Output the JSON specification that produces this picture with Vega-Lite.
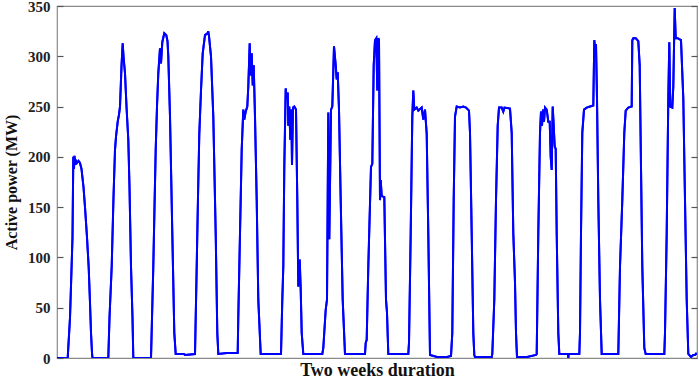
{
  "$schema": "https://vega.github.io/schema/vega-lite/v6.json",
  "width": 640,
  "height": 352,
  "autosize": {"type": "none"},
  "padding": {"left": 57, "top": 6, "right": 2, "bottom": 22},
  "background": "white",
  "config": {
    "view": {"stroke": "#8a8a8a", "strokeWidth": 1.2},
    "axis": {"grid": false, "domain": false, "labelFont": "Liberation Serif", "titleFont": "Liberation Serif", "labelFontWeight": "bold", "titleFontWeight": "bold", "labelColor": "#222222", "titleColor": "#111111"},
    "axisY": {"ticks": true, "tickColor": "#555555", "tickOpacity": 1, "tickWidth": 1.2, "tickSize": 6}
  },
  "data": {"values": [
    {"t":0,"p":0},{"t":10.7,"p":0},{"t":13,"p":40},{"t":15.5,"p":120},{"t":16.3,"p":200},{"t":17,"p":188},{"t":17.5,"p":201},{"t":18.3,"p":192},{"t":19,"p":196},{"t":20,"p":194},{"t":21.5,"p":196},{"t":23,"p":194},{"t":24.5,"p":188},{"t":26.5,"p":170},{"t":28,"p":150},{"t":30,"p":120},{"t":31.7,"p":90},{"t":33,"p":55},{"t":34,"p":25},{"t":35,"p":5},{"t":35.5,"p":0},
    {"t":51.3,"p":0},{"t":52.5,"p":40},{"t":54.7,"p":91},{"t":56.5,"p":160},{"t":58,"p":207},{"t":59,"p":220},{"t":60.7,"p":235},{"t":62,"p":242},{"t":63,"p":250},{"t":64.5,"p":290},{"t":65.7,"p":313},{"t":66.5,"p":300},{"t":68,"p":283},{"t":69.5,"p":250},{"t":71.3,"p":217},{"t":72.5,"p":170},{"t":74,"p":91},{"t":75.5,"p":40},{"t":76.3,"p":0},
    {"t":94,"p":0},{"t":96.3,"p":91},{"t":97.5,"p":150},{"t":98.7,"p":207},{"t":100,"p":250},{"t":101.3,"p":283},{"t":103,"p":308},{"t":104,"p":293},{"t":105.3,"p":314},{"t":107.3,"p":323},{"t":109.3,"p":321},{"t":110.5,"p":315},{"t":111.3,"p":300},{"t":113,"p":240},{"t":115.3,"p":124},{"t":117.3,"p":25},{"t":118.7,"p":4},
    {"t":127,"p":4},{"t":128,"p":3},{"t":138,"p":4},{"t":139.7,"p":91},{"t":141,"p":160},{"t":142.3,"p":223},{"t":144,"p":266},{"t":145.7,"p":303},{"t":148,"p":321},{"t":150.7,"p":323},{"t":151.2,"p":325},{"t":152,"p":320},{"t":154,"p":300},{"t":156.3,"p":240},{"t":158.7,"p":124},{"t":160.3,"p":25},{"t":161.3,"p":4},
    {"t":170,"p":5},{"t":180.7,"p":5},{"t":181.3,"p":41},{"t":183,"p":124},{"t":184.7,"p":207},{"t":186.3,"p":247},{"t":187.3,"p":237},{"t":188.7,"p":245},{"t":190.3,"p":250},{"t":191.3,"p":270},{"t":192.7,"p":313},{"t":193.7,"p":281},{"t":194.7,"p":303},{"t":195.7,"p":271},{"t":196.7,"p":291},{"t":198,"p":240},{"t":199.7,"p":157},{"t":201.3,"p":58},{"t":203.7,"p":4},
    {"t":223,"p":4},{"t":224,"p":4},{"t":225.3,"p":58},{"t":226.3,"p":91},{"t":227.3,"p":190},{"t":228.7,"p":268},{"t":229.7,"p":258},{"t":230.7,"p":264},{"t":231.3,"p":231},{"t":232.3,"p":250},{"t":233.3,"p":217},{"t":234.3,"p":247},{"t":235,"p":192},{"t":236,"p":249},{"t":237.3,"p":250},{"t":239,"p":247},{"t":240.3,"p":157},{"t":241.3,"p":71},{"t":242.7,"p":98},{"t":243.7,"p":68},{"t":244.7,"p":25},{"t":246.3,"p":4},
    {"t":265.3,"p":4},{"t":266.3,"p":10},{"t":268.7,"p":48},{"t":270,"p":58},{"t":271.3,"p":244},{"t":272.3,"p":118},{"t":274,"p":247},{"t":275.3,"p":250},{"t":277,"p":310},{"t":278.7,"p":291},{"t":279.7,"p":277},{"t":280.7,"p":284},{"t":282,"p":247},{"t":283.7,"p":157},{"t":285.7,"p":58},{"t":288,"p":4},
    {"t":308,"p":4},{"t":308.7,"p":15},{"t":309.7,"p":18},{"t":311.3,"p":91},{"t":314,"p":190},{"t":315.3,"p":193},{"t":316.7,"p":291},{"t":318,"p":316},{"t":319.3,"p":318},{"t":320.3,"p":266},{"t":321.3,"p":318},{"t":322,"p":316},{"t":323,"p":157},{"t":323.7,"p":177},{"t":324.7,"p":161},{"t":327.3,"p":160},{"t":329,"p":58},{"t":330,"p":45},{"t":331.3,"p":4},
    {"t":351.3,"p":4},{"t":352,"p":15},{"t":353.7,"p":124},{"t":355.3,"p":240},{"t":356.3,"p":266},{"t":357.3,"p":247},{"t":359.7,"p":249},{"t":361.3,"p":246},{"t":364.7,"p":249},{"t":366.3,"p":237},{"t":368,"p":247},{"t":369.7,"p":223},{"t":371.3,"p":124},{"t":373,"p":3},
    {"t":380,"p":1},{"t":390,"p":1},{"t":394,"p":2},{"t":395.3,"p":25},{"t":396.7,"p":157},{"t":398,"p":240},{"t":399.7,"p":250},{"t":403,"p":249},{"t":406.3,"p":250},{"t":409,"p":249},{"t":412,"p":246},{"t":413,"p":224},{"t":414.7,"p":124},{"t":416.3,"p":25},{"t":417.3,"p":3},{"t":418,"p":1},
    {"t":434.7,"p":1},{"t":435.3,"p":4},{"t":437.3,"p":58},{"t":439,"p":157},{"t":440.7,"p":231},{"t":442,"p":249},{"t":444.7,"p":249},{"t":446.3,"p":245},{"t":447.5,"p":249},{"t":453,"p":248},{"t":454.7,"p":224},{"t":456.3,"p":124},{"t":458,"p":75},{"t":459,"p":25},{"t":460,"p":1},
    {"t":470,"p":1},{"t":479,"p":3},{"t":479.7,"p":4},{"t":481.3,"p":124},{"t":483,"p":224},{"t":484,"p":245},{"t":485,"p":231},{"t":486,"p":247},{"t":487,"p":235},{"t":488,"p":249},{"t":489.7,"p":247},{"t":491.3,"p":235},{"t":492.7,"p":235},{"t":493.7,"p":200},{"t":494.7,"p":187},{"t":495.7,"p":250},{"t":496.7,"p":231},{"t":497.7,"p":210},{"t":498.7,"p":208},{"t":499.7,"p":124},{"t":501.3,"p":25},{"t":502.3,"p":4},
    {"t":511,"p":4},{"t":511.3,"p":0},{"t":511.7,"p":4},{"t":522.3,"p":4},{"t":523,"p":25},{"t":524,"p":124},{"t":525.3,"p":224},{"t":527,"p":247},{"t":529.7,"p":249},{"t":533,"p":250},{"t":536.3,"p":251},{"t":537.3,"p":316},{"t":538,"p":308},{"t":539,"p":312},{"t":540,"p":258},{"t":541.3,"p":157},{"t":543,"p":58},{"t":544.7,"p":4},
    {"t":561.3,"p":4},{"t":563,"p":91},{"t":565.3,"p":157},{"t":567.3,"p":224},{"t":568.7,"p":246},{"t":571.3,"p":249},{"t":574.7,"p":250},{"t":575.3,"p":316},{"t":576.3,"p":318},{"t":578.7,"p":318},{"t":581.3,"p":315},{"t":582.7,"p":291},{"t":584,"p":190},{"t":585.3,"p":91},{"t":587.3,"p":10},{"t":588.7,"p":4},
    {"t":607.3,"p":4},{"t":608,"p":25},{"t":609.7,"p":124},{"t":611.3,"p":258},{"t":612.3,"p":314},{"t":613.3,"p":250},{"t":615.3,"p":249},{"t":616.3,"p":270},{"t":617.7,"p":348},{"t":618.7,"p":318},{"t":620.7,"p":318},{"t":624,"p":316},{"t":626.3,"p":258},{"t":628,"p":157},{"t":629.7,"p":58},{"t":631.3,"p":4},{"t":634,"p":1},{"t":636.3,"p":3},{"t":638,"p":3},{"t":639.7,"p":5}
  ]},
  "layer": [
    {
      "mark": {"type": "line", "color": "#0000ff", "strokeWidth": 2, "clip": true},
      "encoding": {
        "x": {"field": "t", "type": "quantitative", "scale": {"domain": [0, 640], "nice": false, "zero": false},
          "axis": {"labels": false, "ticks": false, "title": "Two weeks duration", "titleFontSize": 18, "titlePadding": 3}},
        "y": {"field": "p", "type": "quantitative", "scale": {"domain": [0, 350], "nice": false},
          "axis": {"orient": "left", "tickCount": 8, "offset": -6, "labelPadding": 7, "labelFontSize": 15, "title": "Active power (MW)", "titleFontSize": 16, "titlePadding": 8}}
      }
    },
    {
      "mark": {"type": "line", "color": "#0000ff", "strokeWidth": 2, "clip": true},
      "encoding": {
        "x": {"field": "t", "type": "quantitative"},
        "y": {"field": "p", "type": "quantitative",
          "axis": {"orient": "right", "tickCount": 8, "offset": -6, "labels": false, "title": null}}
      }
    }
  ],
  "resolve": {"axis": {"y": "independent"}}
}
